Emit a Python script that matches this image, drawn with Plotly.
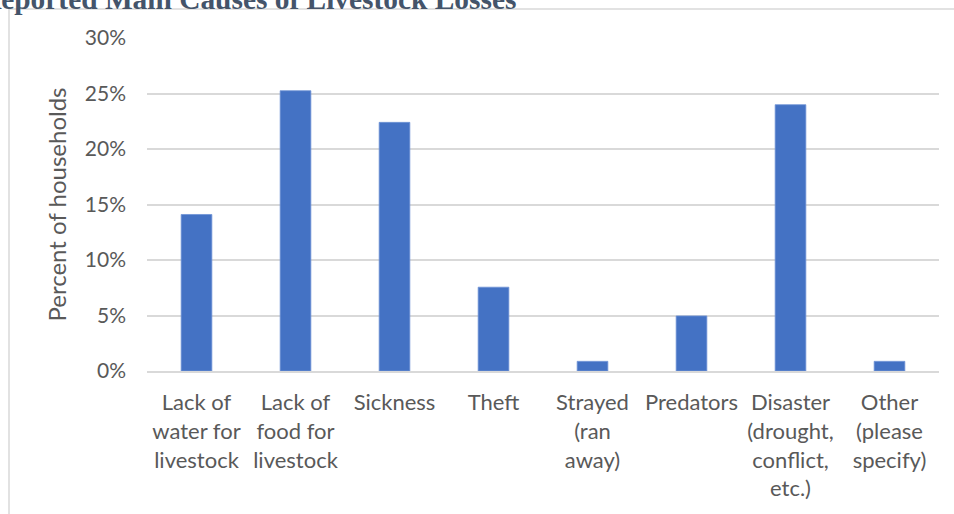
import plotly.graph_objects as go

categories = [
    "Lack of<br>water for<br>livestock",
    "Lack of<br>food for<br>livestock",
    "Sickness",
    "Theft",
    "Strayed<br>(ran<br>away)",
    "Predators",
    "Disaster<br>(drought,<br>conflict,<br>etc.)",
    "Other<br>(please<br>specify)",
]
values = [0.141, 0.2525, 0.224, 0.0755, 0.0087, 0.0496, 0.2399, 0.0087]
tick_vals = [0, 0.05, 0.10, 0.15, 0.20, 0.25, 0.30]
tick_text = ["0%", "5%", "10%", "15%", "20%", "25%", "30%"]
title_text = "Reported Main Causes of Livestock Losses"

W, H = 954, 514
L, R, T, B = 147, 15, 38, 143
pw = W - L - R
ph = H - T - B

def px_x(x):
    return (x - L) / pw

def px_y(y):
    return (H - B - y) / ph

fig = go.Figure()
fig.add_trace(go.Bar(
    x=categories, y=values,
    marker=dict(color="#4472C4", line=dict(color="#6F93D6", width=0.8)),
    width=0.31,
))

font_main = "Lato, Calibri, Carlito, sans-serif"

fig.update_layout(
    width=W, height=H,
    margin=dict(l=L, r=R, t=T, b=B, pad=0),
    paper_bgcolor="white", plot_bgcolor="white",
    showlegend=False,
    font=dict(family=font_main, size=21, color="#595959"),
    xaxis=dict(
        showgrid=False, showline=True, linecolor="#D9D9D9", linewidth=2,
        ticks="", tickfont=dict(size=22, color="#595959"),
        ticklabelstandoff=11,
    ),
    yaxis=dict(
        range=[0, 0.30], tickvals=tick_vals, ticktext=tick_text,
        showgrid=True, gridcolor="#D9D9D9", gridwidth=2,
        zeroline=False, showline=False,
        tickfont=dict(size=21, color="#595959"),
        ticklabelstandoff=20,
        title=dict(text="Percent of households", font=dict(size=24, color="#595959"), standoff=11),
    ),
    shapes=[
        dict(type="line", xref="paper", yref="paper",
             x0=px_x(9), x1=px_x(W + 5), y0=px_y(9), y1=px_y(9),
             line=dict(color="#D9D9D9", width=1.5)),
        dict(type="line", xref="paper", yref="paper",
             x0=px_x(9), x1=px_x(9), y0=px_y(9), y1=px_y(H + 5),
             line=dict(color="#D9D9D9", width=1.5)),
    ],
    annotations=[
        dict(text="<b>" + title_text + "</b>", xref="paper", yref="paper",
             x=px_x(518), y=px_y(17), xanchor="right", yanchor="bottom",
             showarrow=False,
             font=dict(family="Liberation Serif, Times New Roman, serif", size=29.4, color="#44546A")),
    ],
)

fig.write_html("out.html")
